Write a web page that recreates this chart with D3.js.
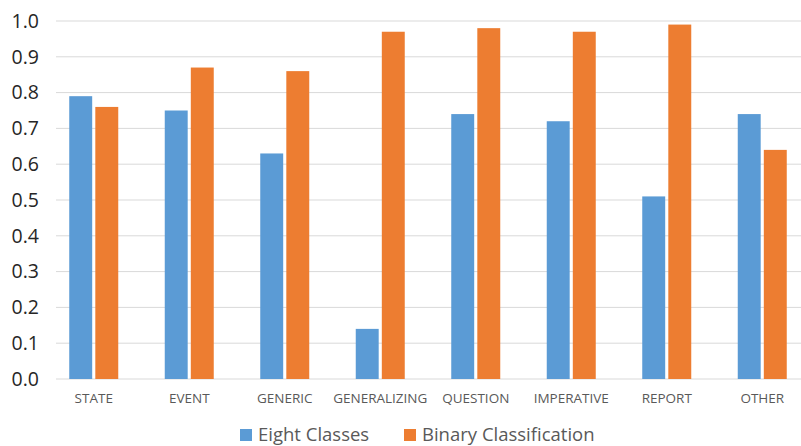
<!DOCTYPE html>
<html><head><meta charset="utf-8">
<script src="https://cdn.jsdelivr.net/npm/d3@7"></script>
<style>body{margin:0;background:#fff}svg{display:block}</style>
</head><body>
<svg id="c" width="801" height="446"></svg>
<script>
const categories = ["STATE","EVENT","GENERIC","GENERALIZING","QUESTION","IMPERATIVE","REPORT","OTHER"];
const eightClasses = [0.79,0.75,0.63,0.14,0.74,0.72,0.51,0.74];
const binaryClassification = [0.76,0.87,0.86,0.97,0.98,0.97,0.99,0.64];
const seriesNames = ["Eight Classes","Binary Classification"];
const yTicks = [0,0.1,0.2,0.3,0.4,0.5,0.6,0.7,0.8,0.9,1.0];
const colors = ["#5B9BD5","#ED7D31"];

const svg = d3.select("#c");
const font = "'Open Sans', 'Liberation Sans', sans-serif";
const y = d3.scaleLinear().domain([0,1]).range([379,21]);
const x = d3.scaleBand().domain(categories).range([46,810]);
const sub = d3.scaleBand().domain(seriesNames).range([-24.5,24.5]).paddingInner(0.12);

// gridlines
svg.append("g").selectAll("line").data(yTicks).join("line")
  .attr("x1",56).attr("x2",801)
  .attr("y1",d=>y(d)).attr("y2",d=>y(d))
  .attr("stroke","#d9d9d9").attr("stroke-width",1);

// y axis labels
const yAxis = d3.axisLeft(y).tickValues(yTicks).tickFormat(d3.format(".1f")).tickSize(0).tickPadding(0);
const ya = svg.append("g").attr("transform","translate(39,0)").call(yAxis);
ya.select(".domain").remove();
ya.selectAll("text").attr("font-family",font).attr("font-size",19.5).attr("fill","#262626");

// bars
const series = [eightClasses, binaryClassification];
series.forEach((vals,si)=>{
  svg.append("g").selectAll("rect").data(vals).join("rect")
    .attr("x",(d,i)=>x(categories[i])+x.bandwidth()/2+sub(seriesNames[si]))
    .attr("width",sub.bandwidth())
    .attr("y",d=>y(d))
    .attr("height",d=>y(0)-y(d))
    .attr("fill",colors[si]);
});

// x axis labels
const xAxis = d3.axisBottom(x).tickSize(0).tickPadding(0);
const xa = svg.append("g").attr("transform","translate(0,393)").call(xAxis);
xa.select(".domain").remove();
xa.selectAll("text").attr("font-family",font).attr("font-size",13.5).attr("fill","#595959").attr("dy","0.71em");

// legend
const legX = [240,404];
const lg = svg.append("g");
seriesNames.forEach((n,i)=>{
  lg.append("rect").attr("x",legX[i]).attr("y",429).attr("width",12).attr("height",12).attr("fill",colors[i]);
  lg.append("text").attr("x",legX[i]+18).attr("y",441).text(n)
    .attr("font-family",font).attr("font-size",18.5).attr("fill","#595959");
});
</script>
</body></html>
